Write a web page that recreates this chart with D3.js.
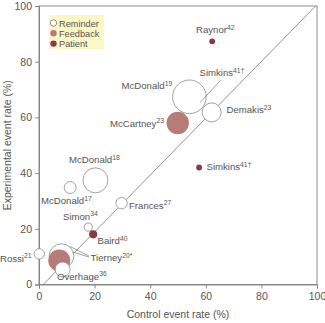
<!DOCTYPE html>
<html><head><meta charset="utf-8">
<script src="https://cdn.jsdelivr.net/npm/d3@7"></script>
<style>body{margin:0;background:#fff}svg{display:block}text{font-family:"Liberation Sans",Arial,sans-serif;fill:#555}</style>
</head><body><svg id="c" width="325" height="323"></svg>
<script>
// Data
const studies = ["Tierney","McDonald","Demakis","McDonald","McDonald","Frances","Simon","Rossi","Tierney","McCartney","Overhage","Raynor","Simkins","Baird"];
const refs    = ["20*","19","23","18","17","27","34","21","20*","23","36","42","41†","40"];
const groups  = ["Reminder","Reminder","Reminder","Reminder","Reminder","Reminder","Reminder","Reminder","Feedback","Feedback","Reminder","Patient","Patient","Patient"];
const controlRate = [8.1, 54.1, 62.1, 20.3, 11.2, 29.7, 17.7, 0.1, 7.3, 49.9, 8.5, 62.3, 57.6, 19.5];
const expRate     = [10.2, 67.4, 61.8, 37.4, 34.8, 29.2, 20.6, 11.0, 8.6, 58.0, 5.4, 87.3, 42.0, 18.0];
const sampleSize  = [157, 293, 94, 162, 37, 34, 17, 28, 126, 130, 58, 9, 9, 17];
const legendItems = ["Reminder","Feedback","Patient"];
const xTicks = [0,20,40,60,80,100];
const yTicks = [0,20,40,60,80,100];
const equalityLine = [[1.5,0],[99.5,100]];

const colors = {Reminder:"#ffffff", Feedback:"#b57c78", Patient:"#8a3a45"};
const svg = d3.select("#c");
const x = d3.scaleLinear().domain([0,100]).range([39,317]);
const y = d3.scaleLinear().domain([0,100]).range([284.5,6]);
const r = d3.scaleSqrt().domain([0,300]).range([0,17]);
const axisCol = "#808080";

// frame
svg.append("rect").attr("x",x(0)).attr("y",y(100)).attr("width",x(100)-x(0)).attr("height",y(0)-y(100))
  .attr("fill","none").attr("stroke",axisCol).attr("stroke-width",0.9);

const gx = svg.append("g").attr("transform",`translate(0,${y(0)})`)
  .call(d3.axisBottom(x).tickValues(xTicks).tickSize(4).tickPadding(4));
const gy = svg.append("g").attr("transform",`translate(${x(0)},0)`)
  .call(d3.axisLeft(y).tickValues(yTicks).tickSize(4).tickPadding(3));
[gx,gy].forEach(g=>{
  g.select(".domain").attr("stroke",axisCol).attr("stroke-width",0.9);
  g.selectAll(".tick line").attr("stroke",axisCol).attr("stroke-width",0.9);
  g.selectAll(".tick text").attr("fill","#555").style("font-size","10.5px").style("font-family","Liberation Sans, Arial, sans-serif");
});

svg.append("text").attr("x",178).attr("y",318).attr("text-anchor","middle").style("font-size","10.5px").text("Control event rate (%)");
svg.append("text").attr("transform",`translate(11,${(y(0)+y(100))/2}) rotate(-90)`).attr("text-anchor","middle").style("font-size","10.5px").text("Experimental event rate (%)");

// diagonal
svg.append("line").attr("x1",x(equalityLine[0][0])).attr("y1",y(equalityLine[0][1]))
  .attr("x2",x(equalityLine[1][0])).attr("y2",y(equalityLine[1][1]))
  .attr("stroke","#777").attr("stroke-width",0.8);

// points
const pts = studies.map((s,i)=>({s,ref:refs[i],g:groups[i],cx:controlRate[i],ey:expRate[i],n:sampleSize[i]}));
svg.append("g").selectAll("circle").data(pts).join("circle")
  .attr("cx",d=>x(d.cx)).attr("cy",d=>y(d.ey)).attr("r",d=>r(d.n))
  .attr("fill",d=>colors[d.g])
  .attr("stroke",d=>d.g==="Reminder"?"#8a8a8a":"none").attr("stroke-width",0.8);

// leader lines
const leaders = [
  [[221,80],[200.5,102]],
  [[89,256],[70,246.5]],
  [[89,257],[72.5,252]]
];
svg.append("g").selectAll("line").data(leaders).join("line")
  .attr("x1",d=>d[0][0]).attr("y1",d=>d[0][1]).attr("x2",d=>d[1][0]).attr("y2",d=>d[1][1])
  .attr("stroke","#777").attr("stroke-width",0.7);

// labels
const labelNames = ["Raynor","Simkins","McDonald","Demakis","McCartney","Simkins","McDonald","McDonald","Frances","Simon","Baird","Rossi","Tierney","Overhage"];
const labelRefs  = ["42","41†","19","23","23","41†","18","17","27","34","40","21","20*","36"];
const labelPos = [[196,33],[199.5,76],[121.5,89],[226.5,113],[110,126.5],[206.5,170],[69,163],[41,204],[129,208.5],[63,219.5],[97.5,244],[0,261.5],[90.5,261],[57,279.5]];
labelNames.forEach((nm,i)=>{
  const t = svg.append("text").attr("x",labelPos[i][0]).attr("y",labelPos[i][1]).style("font-size","9.6px");
  t.append("tspan").text(nm);
  t.append("tspan").attr("dy",-3.5).style("font-size","6.8px").text(labelRefs[i]);
});

// legend
const lg = svg.append("g");
lg.append("rect").attr("x",49).attr("y",15).attr("width",55).attr("height",34).attr("fill","#fdf7c6");
legendItems.forEach((k,i)=>{
  lg.append("circle").attr("cx",53.5).attr("cy",23+i*10.3).attr("r",3.2).attr("fill",colors[k])
    .attr("stroke",k==="Reminder"?"#777":"none").attr("stroke-width",0.8);
  lg.append("text").attr("x",59).attr("y",26.5+i*10.3).style("font-size","9.2px").text(k);
});
</script></body></html>
